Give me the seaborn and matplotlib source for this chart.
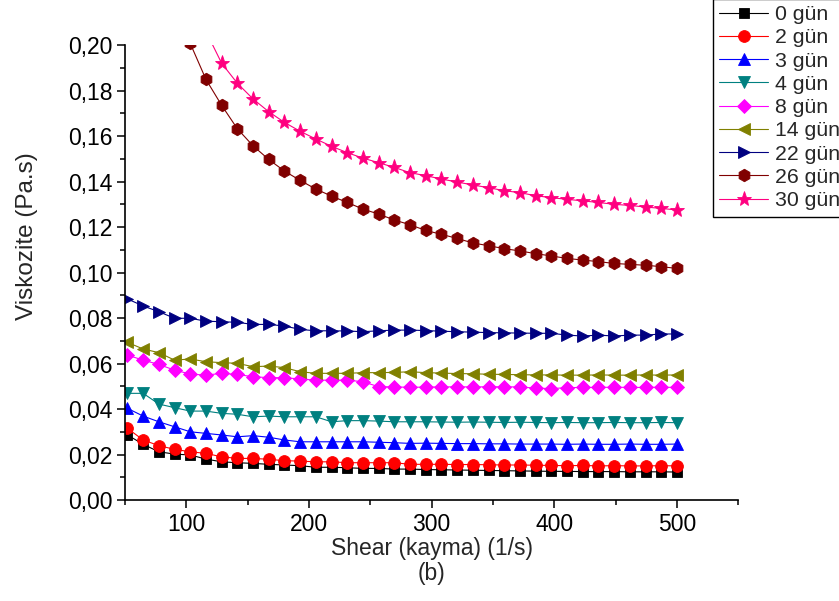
import numpy as np
import pandas as pd
import matplotlib
matplotlib.use("Agg")
import matplotlib.pyplot as plt
from matplotlib.ticker import MultipleLocator, FuncFormatter
import seaborn as sns

# Shear rate grid (1/s)
shear = [52.0, 64.8, 77.6, 90.4, 103.2, 116.0, 128.8, 141.6, 154.4, 167.2,
         180.0, 192.8, 205.6, 218.4, 231.2, 244.0, 256.8, 269.6, 282.4, 295.2,
         308.0, 320.8, 333.6, 346.4, 359.2, 372.0, 384.8, 397.6, 410.4, 423.2,
         436.0, 448.8, 461.6, 474.4, 487.2, 500.0]

# Viscosity (Pa.s) per storage day
visc_0 = [0.0286, 0.0245, 0.0212, 0.0202, 0.0198, 0.0180, 0.0168, 0.0164, 0.0161, 0.0157,
          0.0154, 0.0151, 0.0144, 0.0144, 0.0142, 0.0139, 0.0139, 0.0136, 0.0136, 0.0134,
          0.0133, 0.0132, 0.0131, 0.0130, 0.0129, 0.0128, 0.0127, 0.0126, 0.0126, 0.0125,
          0.0125, 0.0125, 0.0124, 0.0124, 0.0124, 0.0123]
visc_2 = [0.0315, 0.0264, 0.0239, 0.0223, 0.0212, 0.0205, 0.0190, 0.0183, 0.0183, 0.0179,
          0.0173, 0.0171, 0.0168, 0.0168, 0.0164, 0.0164, 0.0164, 0.0164, 0.0157, 0.0157,
          0.0157, 0.0156, 0.0156, 0.0155, 0.0154, 0.0154, 0.0153, 0.0152, 0.0151, 0.0152,
          0.0150, 0.0151, 0.0150, 0.0150, 0.0151, 0.0150]
visc_3 = [0.0403, 0.0369, 0.0344, 0.0322, 0.0300, 0.0293, 0.0286, 0.0278, 0.0283, 0.0276,
          0.0264, 0.0256, 0.0256, 0.0256, 0.0256, 0.0256, 0.0254, 0.0252, 0.0249, 0.0250,
          0.0249, 0.0248, 0.0248, 0.0247, 0.0247, 0.0246, 0.0246, 0.0246, 0.0245, 0.0246,
          0.0245, 0.0245, 0.0246, 0.0245, 0.0245, 0.0246]
visc_4 = [0.0469, 0.0469, 0.0422, 0.0406, 0.0391, 0.0391, 0.0381, 0.0377, 0.0366, 0.0369,
          0.0366, 0.0366, 0.0366, 0.0344, 0.0349, 0.0349, 0.0347, 0.0344, 0.0344, 0.0344,
          0.0343, 0.0342, 0.0343, 0.0342, 0.0341, 0.0342, 0.0341, 0.0340, 0.0341, 0.0340,
          0.0340, 0.0341, 0.0340, 0.0340, 0.0341, 0.0340]
visc_8 = [0.0637, 0.0615, 0.0596, 0.0571, 0.0554, 0.0549, 0.0557, 0.0552, 0.0542, 0.0538,
          0.0538, 0.0532, 0.0527, 0.0527, 0.0527, 0.0520, 0.0498, 0.0498, 0.0495, 0.0497,
          0.0497, 0.0498, 0.0497, 0.0498, 0.0498, 0.0497, 0.0492, 0.0490, 0.0494, 0.0495,
          0.0495, 0.0496, 0.0495, 0.0495, 0.0496, 0.0495]
visc_14 = [0.0693, 0.0664, 0.0648, 0.0615, 0.0620, 0.0608, 0.0604, 0.0601, 0.0586, 0.0589,
           0.0582, 0.0564, 0.0557, 0.0557, 0.0557, 0.0560, 0.0560, 0.0561, 0.0564, 0.0560,
           0.0558, 0.0556, 0.0555, 0.0553, 0.0552, 0.0551, 0.0550, 0.0550, 0.0549, 0.0549,
           0.0550, 0.0549, 0.0549, 0.0550, 0.0549, 0.0550]
visc_22 = [0.0884, 0.0853, 0.0828, 0.0799, 0.0799, 0.0786, 0.0784, 0.0781, 0.0772, 0.0772,
           0.0765, 0.0750, 0.0744, 0.0744, 0.0743, 0.0740, 0.0744, 0.0747, 0.0747, 0.0745,
           0.0742, 0.0740, 0.0738, 0.0736, 0.0735, 0.0734, 0.0733, 0.0733, 0.0725, 0.0721,
           0.0725, 0.0721, 0.0725, 0.0725, 0.0730, 0.0730]
visc_26 = [0.2950, 0.2620, 0.2360, 0.2160, 0.2007, 0.1849, 0.1735, 0.1632, 0.1557, 0.1497,
           0.1446, 0.1405, 0.1367, 0.1336, 0.1308, 0.1279, 0.1257, 0.1231, 0.1210, 0.1185,
           0.1168, 0.1150, 0.1130, 0.1118, 0.1105, 0.1095, 0.1083, 0.1073, 0.1062, 0.1055,
           0.1048, 0.1040, 0.1036, 0.1032, 0.1026, 0.1018]
visc_30 = [0.3600, 0.3100, 0.2720, 0.2440, 0.2220, 0.2060, 0.1920, 0.1832, 0.1763, 0.1707,
           0.1660, 0.1621, 0.1587, 0.1555, 0.1527, 0.1503, 0.1483, 0.1462, 0.1439, 0.1426,
           0.1411, 0.1398, 0.1385, 0.1373, 0.1360, 0.1351, 0.1338, 0.1329, 0.1322, 0.1315,
           0.1308, 0.1300, 0.1295, 0.1288, 0.1282, 0.1275]

labels = ["0 gün", "2 gün", "3 gün", "4 gün", "8 gün", "14 gün", "22 gün", "26 gün", "30 gün"]
series = [visc_0, visc_2, visc_3, visc_4, visc_8, visc_14, visc_22, visc_26, visc_30]
colors = ["#000000", "#FF0000", "#0000FF", "#008080", "#FF00FF", "#808000",
          "#000080", "#800000", "#FF0080"]
markers = ["s", "o", "^", "v", "D", "<", ">", "h", "*"]
msizes = [7, 8.5, 8.5, 8.5, 7.5, 8.5, 8.5, 9, 11]

sns.set_style("ticks")
plt.rcParams["font.family"] = ["Liberation Sans", "DejaVu Sans"]

TICK_FS = 16.5
YLAB_FS = 17.5
LEG_FS = 15.3

fig = plt.figure(figsize=(8.39, 6.01), dpi=100)
ax = fig.add_axes([0.149, 0.168, 0.731, 0.757])

for lab, vals, col, mk, ms in zip(labels, series, colors, markers, msizes):
    sns.lineplot(x=shear, y=vals, ax=ax, color=col, marker=mk, markersize=ms,
                 markeredgecolor=col, markeredgewidth=0.6, linewidth=0.8,
                 label=lab, sort=False, errorbar=None)

ax.set_xlim(50, 550)
ax.set_ylim(0, 0.20)
ax.xaxis.set_major_locator(MultipleLocator(100))
ax.xaxis.set_minor_locator(MultipleLocator(50))
ax.yaxis.set_major_locator(MultipleLocator(0.02))
ax.yaxis.set_minor_locator(MultipleLocator(0.01))
ax.xaxis.set_major_formatter(FuncFormatter(
    lambda v, p: "" if v < 99 or v > 501 else f"{v:.0f}"))
ax.yaxis.set_major_formatter(FuncFormatter(lambda v, p: f"{v:.2f}".replace(".", ",")))

for side in ("top", "right"):
    ax.spines[side].set_visible(False)
for side in ("left", "bottom"):
    ax.spines[side].set_color("black")
    ax.spines[side].set_linewidth(1.2)
ax.tick_params(which="major", direction="out", length=6, width=1.1,
               labelsize=TICK_FS, colors="black", pad=3)
ax.tick_params(which="minor", direction="out", length=3.5, width=1.1, colors="black")

ax.set_xlabel("Shear (kayma) (1/s)\n(b)", fontsize=TICK_FS, labelpad=1,
              multialignment="center", linespacing=1.1)
ax.set_ylabel("Viskozite (Pa.s)", fontsize=YLAB_FS)
ax.yaxis.set_label_coords(-0.142, 0.58)

leg = ax.legend(loc="upper left", bbox_to_anchor=(713 / 839, 1.002),
                bbox_transform=fig.transFigure, fontsize=LEG_FS, frameon=True,
                fancybox=False, framealpha=1, edgecolor="black",
                handlelength=2.3, handletextpad=0.3, labelspacing=0.2,
                borderpad=0.3, borderaxespad=0)
leg.get_frame().set_linewidth(1.0)

fig.savefig("out.png", dpi=100)
